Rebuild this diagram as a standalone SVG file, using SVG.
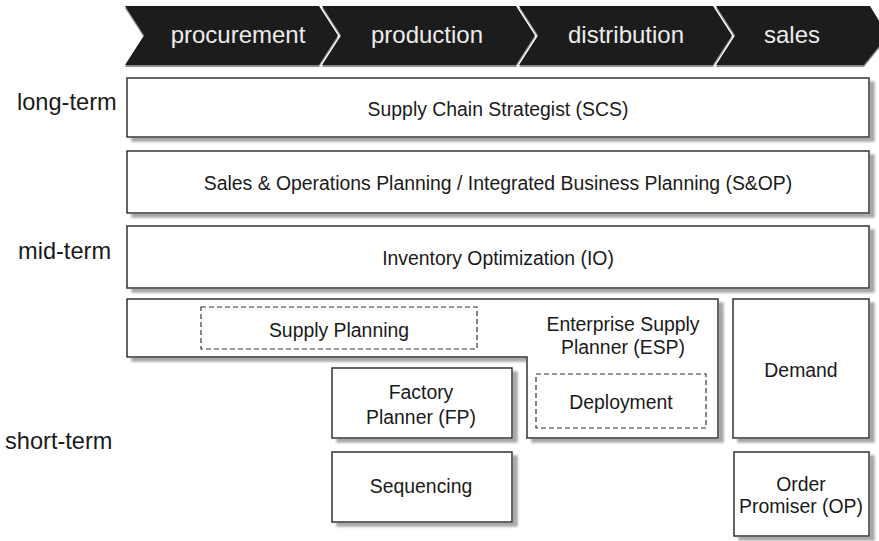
<svg xmlns="http://www.w3.org/2000/svg" width="879" height="541" viewBox="0 0 879 541">
<defs>
<filter id="sh" x="-5%" y="-10%" width="115%" height="130%">
<feGaussianBlur in="SourceAlpha" stdDeviation="0.8"/>
<feOffset dx="5" dy="4" result="o"/>
<feFlood flood-color="#a8a8a8"/>
<feComposite in2="o" operator="in"/>
<feMerge><feMergeNode/><feMergeNode in="SourceGraphic"/></feMerge>
</filter>
<filter id="csh" x="-5%" y="-10%" width="110%" height="130%">
<feOffset in="SourceAlpha" dx="0" dy="2" result="o"/>
<feFlood flood-color="#8a8a8a"/>
<feComposite in2="o" operator="in"/>
<feMerge><feMergeNode/><feMergeNode in="SourceGraphic"/></feMerge>
</filter>
</defs>
<style>
.chev{fill:#1a1a1a;}
.ct{font-family:"Liberation Sans",Arial,sans-serif;font-size:24px;fill:#ececec;text-anchor:middle;}
.lbl{font-family:"Liberation Sans",Arial,sans-serif;font-size:23.6px;fill:#1a1a1a;}
.box{fill:#fff;stroke:#333;stroke-width:1.5;filter:url(#sh);}
.dash{fill:none;stroke:#333;stroke-width:1.2;stroke-dasharray:5 3;}
.t{font-family:"Liberation Sans",Arial,sans-serif;font-size:19.4px;fill:#1a1a1a;text-anchor:middle;}
</style>
<rect width="879" height="541" fill="#fff"/>

<g id="phases" filter="url(#csh)">
<polygon class="chev" points="125,6 319,6 338,35.5 319,65 125,65 144,35.5"/>
<polygon class="chev" points="322,6 516,6 535,35.5 516,65 322,65 341,35.5"/>
<polygon class="chev" points="519,6 713,6 732,35.5 713,65 519,65 538,35.5"/>
<polygon class="chev" points="716,6 870,6 888,35.5 864,65 716,65 735,35.5"/>
</g>
<g id="phase-labels">
<text class="ct" x="238" y="43">procurement</text>
<text class="ct" x="427" y="43">production</text>
<text class="ct" x="626" y="43">distribution</text>
<text class="ct" x="792" y="43">sales</text>
</g>

<g id="horizons">
<text class="lbl" x="17" y="110">long-term</text>
<text class="lbl" x="18" y="259">mid-term</text>
<text class="lbl" x="5" y="449">short-term</text>
</g>

<g id="scs">
<rect class="box" x="127" y="78" width="742" height="59"/>
<text class="t" x="498" y="116">Supply Chain Strategist (SCS)</text>
</g>
<g id="sop">
<rect class="box" x="127" y="151" width="742" height="62"/>
<text class="t" x="498" y="190">Sales &amp; Operations Planning / Integrated Business Planning (S&amp;OP)</text>
</g>
<g id="io">
<rect class="box" x="127" y="226" width="742" height="62"/>
<text class="t" x="498" y="265">Inventory Optimization (IO)</text>
</g>
<g id="esp">
<path class="box" d="M127,299 H718 V438 H527 V357 H127 Z"/>
<text class="t" x="623" y="331">Enterprise Supply</text>
<text class="t" x="623" y="354">Planner (ESP)</text>
</g>
<g id="supply-planning">
<rect class="dash" x="201" y="307" width="276" height="42"/>
<text class="t" x="339" y="337">Supply Planning</text>
</g>
<g id="deployment">
<rect class="dash" x="536" y="374" width="170" height="54"/>
<text class="t" x="621" y="409">Deployment</text>
</g>
<g id="fp">
<rect class="box" x="332" y="368" width="180" height="70"/>
<text class="t" x="421" y="399">Factory</text>
<text class="t" x="421" y="424">Planner (FP)</text>
</g>
<g id="sequencing">
<rect class="box" x="332" y="452" width="180" height="70"/>
<text class="t" x="421" y="493">Sequencing</text>
</g>
<g id="demand">
<rect class="box" x="733" y="299" width="136" height="139"/>
<text class="t" x="801" y="377">Demand</text>
</g>
<g id="op">
<rect class="box" x="734" y="452" width="135" height="84"/>
<text class="t" x="801" y="491">Order</text>
<text class="t" x="801" y="513">Promiser (OP)</text>
</g>
<g id="connectors"></g>
</svg>
